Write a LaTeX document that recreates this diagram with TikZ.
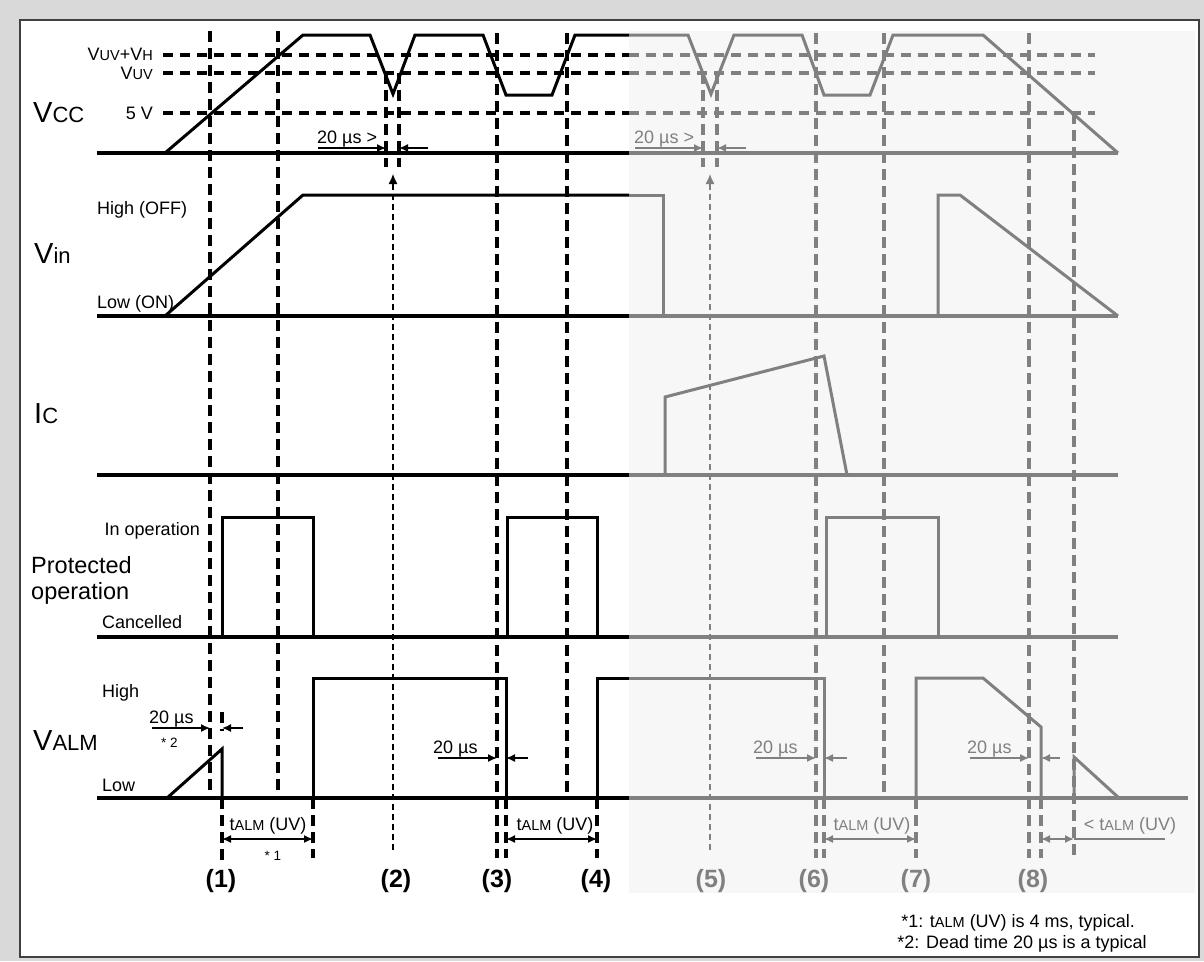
\documentclass[tikz,border=0pt]{standalone}
\usepackage{fontspec}
\setmainfont{Liberation Sans}
\usetikzlibrary{arrows.meta}
\definecolor{gr}{HTML}{808080}
\definecolor{bgout}{HTML}{D9D9D9}
\definecolor{shadebg}{HTML}{F7F7F7}
\newcommand{\lowcap}[1]{{\fontsize{14.5}{14.5}\selectfont #1}}
\newcommand{\bigsub}[1]{{\fontsize{22}{22}\selectfont #1}}
\tikzset{
  base/.style={line width=3.2pt},
  wave/.style={line width=3pt, line join=miter},
  vdash/.style={line width=3.4pt, dash pattern=on 11pt off 6pt},
  hdash/.style={line width=3.2pt, dash pattern=on 10pt off 7pt},
  arr/.style={line width=1.5pt, -{Latex[length=9pt,width=8pt]}},
  darr/.style={line width=1.5pt, {Latex[length=9pt,width=8pt]}-{Latex[length=9pt,width=8pt]}},
  upar/.style={line width=1.2pt, dash pattern=on 6pt off 4pt, -{Latex[length=10pt,width=9pt]}},
  lbl/.style={font=\fontsize{18}{18}\selectfont, inner sep=0pt},
  sig/.style={font=\fontsize{29}{29}\selectfont, inner sep=0pt},
  prot/.style={font=\fontsize{23.5}{26}\selectfont, inner sep=0pt, align=left},
  num/.style={font=\bfseries\fontsize{25}{25}\selectfont, inner sep=0pt},
  tiny/.style={font=\fontsize{13.5}{13.5}\selectfont, inner sep=0pt},
}
\begin{document}
\begin{tikzpicture}[x=1pt,y=-1pt]
\useasboundingbox (0,0) rectangle (1204,961);
\fill[bgout] (0,0) rectangle (1204,961);
\filldraw[fill=white, draw=black!75, line width=1.8pt] (20,20) rectangle (1199,957);
\fill[shadebg] (629,31) rectangle (1195,893);

% horizontal dashed levels
\foreach \y in {55,73,113} {
  \draw[hdash] (163,\y) -- (629,\y);
  \draw[hdash,gr] (629,\y) -- (1095,\y);
}
% baselines
\foreach \y in {153,316,475,637} {
  \draw[base] (97,\y) -- (629,\y);
  \draw[base,gr] (629,\y) -- (1118,\y);
}
\draw[base] (97,798) -- (629,798);
\draw[base,gr] (629,798) -- (1188,798);

% vertical dashed (black)
\draw[vdash] (210,31) -- (210,798);
\draw[vdash] (278,31) -- (278,798);
\draw[vdash] (222,798) -- (222,862);
\draw[vdash] (222,712) -- (222,731);
\draw[vdash] (313,798) -- (313,858);
\draw[vdash] (386,73) -- (386,167);
\draw[vdash] (399,73) -- (399,167);
\draw[vdash] (497,33) -- (497,858);
\draw[vdash] (506,798) -- (506,858);
\draw[vdash] (567,33) -- (567,798);
\draw[vdash] (597,798) -- (597,858);
% vertical dashed (gray)
\begin{scope}[gr]
\draw[vdash] (703,73) -- (703,167);
\draw[vdash] (717,73) -- (717,167);
\draw[vdash] (816,33) -- (816,858);
\draw[vdash] (824,798) -- (824,858);
\draw[vdash] (884,33) -- (884,798);
\draw[vdash] (916,798) -- (916,858);
\draw[vdash] (1029,33) -- (1029,858);
\draw[vdash] (1041,798) -- (1041,858);
\draw[vdash] (1074,113) -- (1074,858);
\end{scope}

% Vcc waveform
\draw[wave] (97,153) -- (165,153) -- (303,35) -- (370,35) -- (393,94) -- (415,35) -- (483,35)
  -- (506,95) -- (552,95) -- (575,35) -- (629,35);
\draw[wave,gr] (629,35) -- (688,35) -- (711,94) -- (734,35) -- (802,35) -- (824,95) -- (870,95)
  -- (893,35) -- (983,35) -- (1118,153);
% Vin
\draw[wave] (165,316) -- (303,195) -- (629,195);
\draw[wave,gr] (629,195) -- (663,195) -- (663,316);
\draw[wave,gr] (938,316) -- (938,195) -- (960,195) -- (1118,316);
% Ic
\draw[wave,gr] (665,475) -- (665,397) -- (824,356) -- (847,475);
% Protected operation
\draw[wave] (222,637) -- (222,517) -- (313,517) -- (313,637);
\draw[wave] (507,637) -- (507,517) -- (597,517) -- (597,637);
\draw[wave,gr] (826,637) -- (826,517) -- (938,517) -- (938,637);
% VALM
\draw[wave] (167,798) -- (222,749) -- (222,798);
\draw[wave] (313,798) -- (313,678) -- (506,678) -- (506,798);
\draw[wave] (597,798) -- (597,678) -- (629,678);
\draw[wave,gr] (629,678) -- (824,678) -- (824,798);
\draw[wave,gr] (916,798) -- (916,678) -- (983,678) -- (1041,727) -- (1041,798);
\draw[wave,gr] (1074,798) -- (1074,757) -- (1119,798);

% up arrows (2) and (5)
\draw[upar] (393,850) -- (393,174);
\draw[upar,gr] (710,850) -- (710,174);

% 20 us arrows
\draw[arr] (318,148) -- (386,148);
\draw[arr] (428,148) -- (399,148);
\draw[arr,gr] (635,148) -- (703,148);
\draw[arr,gr] (746,148) -- (717,148);
\draw[arr] (152,728) -- (210,728);
\draw[arr] (243,728) -- (222,728);
\draw[arr] (438,758) -- (497,758);
\draw[arr] (528,758) -- (506,758);
\draw[arr,gr] (756,758) -- (816,758);
\draw[arr,gr] (847,758) -- (824,758);
\draw[arr,gr] (970,758) -- (1029,758);
\draw[arr,gr] (1060,758) -- (1041,758);

% tALM arrows
\draw[darr] (222,839) -- (313,839);
\draw[darr] (506,839) -- (597,839);
\draw[darr,gr] (824,839) -- (916,839);
\draw[darr,gr] (1041,839) -- (1074,839);
\draw[line width=1.5pt,gr] (1074,839) -- (1165,839);

% left labels
\node[lbl, anchor=east] (lvh) at (153,54) {V\lowcap{UV}+V\lowcap{H}};
\node[lbl, anchor=east] (luv) at (153,73) {V\lowcap{UV}};
\node[lbl, anchor=east] (l5v) at (153,113) {5 V};
\node[sig, anchor=base west] (svcc) at (33,122) {V\bigsub{CC}};
\node[lbl, anchor=base west] (lhoff) at (97,214) {High (OFF)};
\node[sig, anchor=base west] (svin) at (34,263) {V\bigsub{in}};
\node[lbl, anchor=base west] (lloon) at (97,308) {Low (ON)};
\node[sig, anchor=base west] (sic) at (34,423) {I\bigsub{C}};
\node[lbl, anchor=base east] (linop) at (200,535) {In operation};
\node[prot, anchor=north west] (sprot) at (31,556) {Protected\\operation};
\node[lbl, anchor=base west] (lcanc) at (102,628) {Cancelled};
\node[lbl, anchor=base west] (lhigh) at (102,697) {High};
\node[sig, anchor=base west] (svalm) at (33,750) {V\bigsub{ALM}};
\node[lbl, anchor=base west] (llow) at (102,791) {Low};

% Vcc 20us labels
\node[lbl, anchor=base west] (t20a) at (317,143) {20 µs >};
\node[lbl, anchor=base west, gr] (t20b) at (634,143) {20 µs >};
% VALM 20us labels
\node[lbl, anchor=base west] (t20c) at (149,723) {20 µs};
\node[tiny, anchor=base west] (st2) at (161,747) {* 2};
\node[lbl, anchor=base west] (t20d) at (433,753) {20 µs};
\node[lbl, anchor=base west, gr] (t20e) at (753,753) {20 µs};
\node[lbl, anchor=base west, gr] (t20f) at (967,753) {20 µs};
% tALM labels
\node[lbl, anchor=base] (ta1) at (268,830) {t\lowcap{ALM} (UV)};
\node[tiny, anchor=base] (st1) at (273,860) {* 1};
\node[lbl, anchor=base] (ta3) at (555,830) {t\lowcap{ALM} (UV)};
\node[lbl, anchor=base, gr] (ta6) at (872,830) {t\lowcap{ALM} (UV)};
\node[lbl, anchor=base, gr] (ta8) at (1130,830) {< t\lowcap{ALM} (UV)};

% numbers
\node[num, anchor=base] (n1) at (221,887) {(1)};
\node[num, anchor=base] (n2) at (396,887) {(2)};
\node[num, anchor=base] (n3) at (497,887) {(3)};
\node[num, anchor=base] (n4) at (596,887) {(4)};
\node[num, anchor=base, gr] (n5) at (711,887) {(5)};
\node[num, anchor=base, gr] (n6) at (814,887) {(6)};
\node[num, anchor=base, gr] (n7) at (916,887) {(7)};
\node[num, anchor=base, gr] (n8) at (1033,887) {(8)};

% footnotes
\node[lbl, anchor=base] (fn1) at (1018,927) {*1: t\lowcap{ALM} (UV) is 4 ms, typical.};
\node[lbl, anchor=base] (fn2) at (1022,948) {*2: Dead time 20 µs is a typical};
\end{tikzpicture}
\end{document}
